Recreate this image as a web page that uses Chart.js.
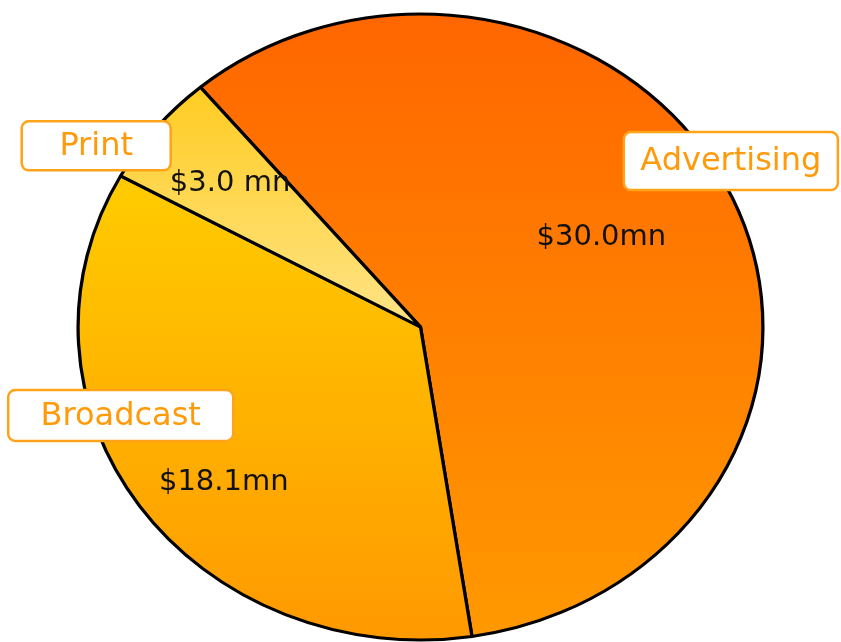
<!DOCTYPE html>
<html>
<head>
<meta charset="utf-8">
<script src="https://cdn.jsdelivr.net/npm/chart.js@4/dist/chart.umd.min.js"></script>
<style>
  html, body { margin: 0; background: #fff; }
  #wrap { width: 841px; height: 642px; }
</style>
</head>
<body>
<div id="wrap"><canvas id="chart"></canvas></div>
<script>
const categories = ["Advertising", "Broadcast", "Print"];
const revenue = [30.0, 18.1, 3.0];
const valueLabels = ["$30.0mn", "$18.1mn", "$3.0 mn"];
const topColors = ["#FF6600", "#FFCC00", "#FFCC22"];
const bottomColors = ["#FF9900", "#FF9900", "#FFE488"];

const PIE_RADIUS = 313;
const STRETCH_X = 1.094; // pie is drawn a little wider than tall
const START_DEG = -40;

// where labels sit: angle offset from the slice middle (deg), fraction of radius
const valuePlace = [
  { da: -4, rf: 0.6 },
  { da: -6, rf: 0.76 },
  { da: 0, rf: 0.72 },
];
const namePlace = [
  { da: -6, rf: 1.05, w: 214, h: 58 },
  { da: 17, rf: 0.92, w: 225, h: 51 },
  { da: -8, rf: 1.11, w: 149, h: 49 },
];

function sliceGradient(c) {
  const chart = c.chart;
  const area = chart.chartArea;
  const i = c.dataIndex;
  if (!area) return topColors[i];
  const total = revenue.reduce((a, b) => a + b, 0);
  let a0 = ((START_DEG - 90) * Math.PI) / 180;
  for (let k = 0; k < i; k++) a0 += (revenue[k] / total) * 2 * Math.PI;
  const a1 = a0 + (revenue[i] / total) * 2 * Math.PI;
  const cy = (area.top + area.bottom) / 2;
  const ys = [cy, cy + PIE_RADIUS * Math.sin(a0), cy + PIE_RADIUS * Math.sin(a1)];
  [-Math.PI / 2, Math.PI / 2, (3 * Math.PI) / 2].forEach((q) => {
    if (q > a0 && q < a1) ys.push(cy + PIE_RADIUS * Math.sin(q));
  });
  const g = chart.ctx.createLinearGradient(0, Math.min(...ys), 0, Math.max(...ys));
  g.addColorStop(0, topColors[i]);
  g.addColorStop(1, bottomColors[i]);
  return g;
}

const stretchPie = {
  id: "stretchPie",
  beforeDatasetsDraw(chart) {
    const area = chart.chartArea;
    const cx = (area.left + area.right) / 2;
    const ctx = chart.ctx;
    ctx.save();
    ctx.translate(cx, 0);
    ctx.scale(STRETCH_X, 1);
    ctx.translate(-cx, 0);
  },
  afterDatasetsDraw(chart) {
    const ctx = chart.ctx;
    ctx.restore();

    const arcs = chart.getDatasetMeta(0).data;
    const spot = (arc, p) => {
      const { x, y, startAngle, endAngle, outerRadius } = arc.getProps(
        ["x", "y", "startAngle", "endAngle", "outerRadius"], true);
      const a = (startAngle + endAngle) / 2 + (p.da * Math.PI) / 180;
      return {
        x: x + STRETCH_X * p.rf * outerRadius * Math.cos(a),
        y: y + p.rf * outerRadius * Math.sin(a),
      };
    };

    ctx.save();
    ctx.textAlign = "center";
    ctx.textBaseline = "middle";

    // values inside the slices
    ctx.font = "29px 'DejaVu Sans'";
    ctx.fillStyle = "#111";
    arcs.forEach((arc, i) => {
      const pt = spot(arc, valuePlace[i]);
      ctx.fillText(valueLabels[i], pt.x, pt.y);
    });

    // category name boxes
    ctx.font = "32px 'DejaVu Sans'";
    arcs.forEach((arc, i) => {
      const p = namePlace[i];
      const pt = spot(arc, p);
      ctx.beginPath();
      ctx.roundRect(pt.x - p.w / 2, pt.y - p.h / 2, p.w, p.h, 7);
      ctx.fillStyle = "#fff";
      ctx.fill();
      ctx.lineWidth = 2.5;
      ctx.strokeStyle = "#FFA31A";
      ctx.stroke();
      ctx.fillStyle = "#FF9A0A";
      ctx.fillText(categories[i], pt.x, pt.y + 1);
    });
    ctx.restore();
  },
};

new Chart(document.getElementById("chart"), {
  type: "pie",
  data: {
    labels: categories,
    datasets: [
      {
        data: revenue,
        backgroundColor: sliceGradient,
        borderColor: "#000",
        borderWidth: 3,
        clip: false,
      },
    ],
  },
  options: {
    responsive: true,
    maintainAspectRatio: false,
    devicePixelRatio: 1,
    animation: false,
    rotation: START_DEG,
    radius: PIE_RADIUS,
    layout: { padding: { top: 12, bottom: 0, left: 0, right: 0 } },
    plugins: {
      legend: { display: false },
      tooltip: { enabled: false },
    },
  },
  plugins: [stretchPie],
});
</script>
</body>
</html>
